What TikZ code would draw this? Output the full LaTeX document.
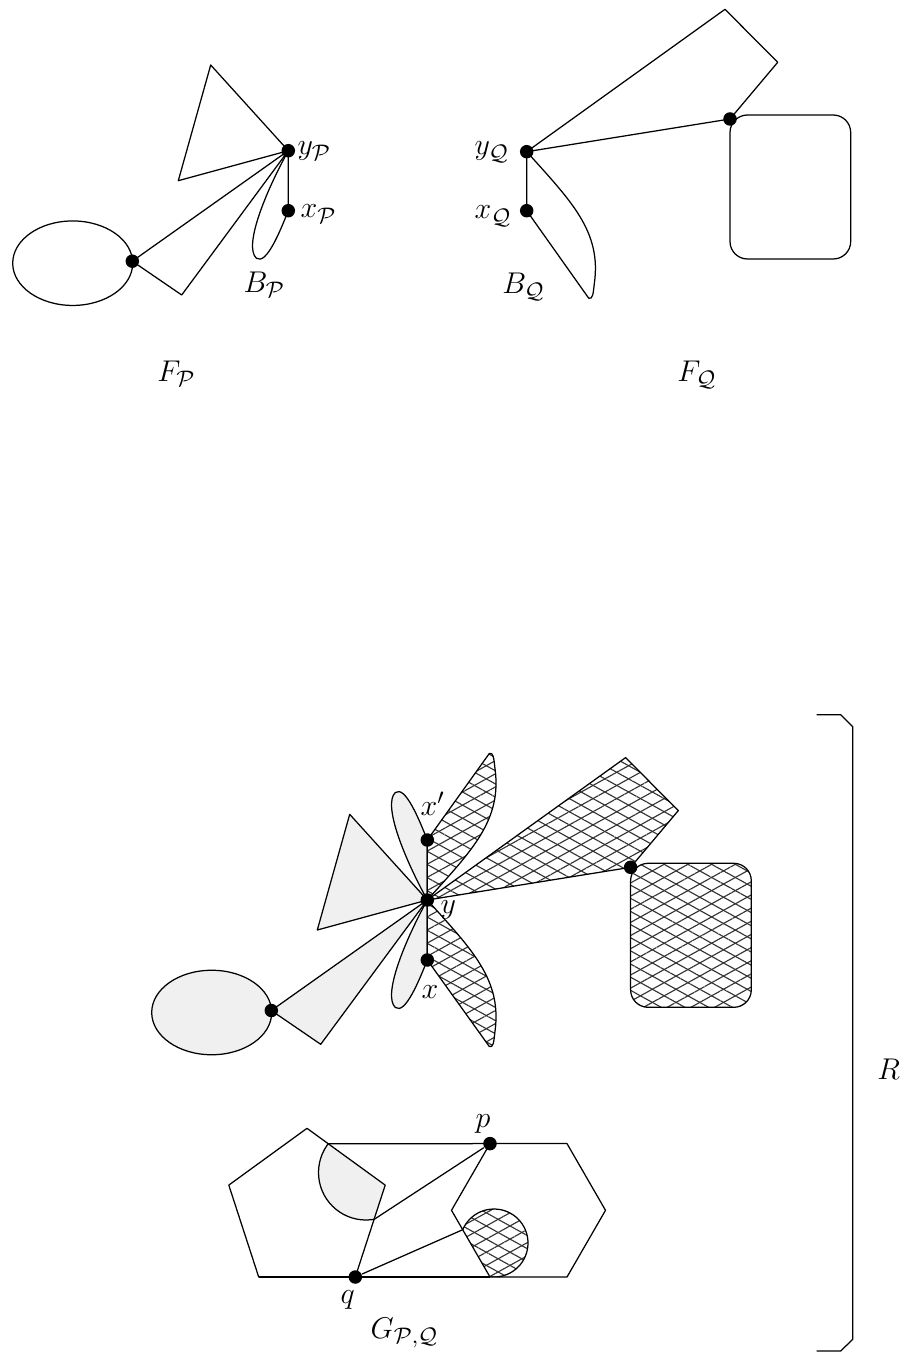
\documentclass[tikz,border=0pt]{standalone}
\usetikzlibrary{patterns.meta}
\begin{document}
\begin{tikzpicture}[x=0.4pt,y=-0.4pt,line width=0.5pt,line join=round,
  dot/.style={circle,fill=black,draw=none,inner sep=0pt,minimum size=5.4pt},
  grayfill/.style={fill=black!6},
  hatchfill/.style={preaction={pattern={Lines[angle=29,distance=4.6pt,line width=0.45pt]},pattern color=black!80},
                    preaction={pattern={Lines[angle=-29,distance=4.6pt,line width=0.45pt]},pattern color=black!80}},
  lbl/.style={inner sep=0pt,anchor=base west,font=\fontsize{12.5}{15}\selectfont},
  rr/.style={rounded corners=7pt}]
\useasboundingbox (0,0) rectangle (905,1364);

% ---------------- F_P (top left)
\begin{scope}[shift={(288.3,150.7)}]
  \draw (-215.6,112.5) ellipse [x radius=24pt,y radius=16.9pt];
  \draw (0,0) -- (-77.6,-85.7) -- (-110,30) -- cycle;
  \draw (-156,110.5) -- (0,0) -- (-106.6,144.3) -- cycle;
  \draw (0,0) .. controls (-22,40) and (-45,95) .. (-32,107.5) .. controls (-22,115) and (-8,80) .. (0,60) -- cycle;
  \node[dot] (eP) at (-156,110.5) {};
  \node[dot] (yP) at (0,0) {};
  \node[dot] (xP) at (0,60) {};
\end{scope}
\node[lbl] (lyP) at (297,155) {$y_{\mathcal{P}}$};
\node[lbl] (lxP) at (300,218) {$x_{\mathcal{P}}$};
\node[lbl] (lBP) at (243,292.7) {$B_{\mathcal{P}}$};
\node[lbl] (lFP) at (156.7,381.7) {$F_{\mathcal{P}}$};

% ---------------- F_Q (top right)
\begin{scope}[shift={(526.7,151.7)}]
  \draw (0,0) -- (198.3,-142.4) -- (251,-89.4) -- (203.3,-32.7) -- cycle;
  \draw[rr] (203.3,-36.7) rectangle (324,107.3);
  \draw (0,0) .. controls (45,50) and (75,80) .. (67.6,132) .. controls (66.5,142) and (66,148) .. (62,146.5) -- (0,59) -- cycle;
  \node[dot] (yQ) at (0,0) {};
  \node[dot] (xQ) at (0,59) {};
  \node[dot] (eQ) at (203.3,-32.7) {};
\end{scope}
\node[lbl] (lyQ) at (474,155) {$y_{\mathcal{Q}}$};
\node[lbl] (lxQ) at (474,219) {$x_{\mathcal{Q}}$};
\node[lbl] (lBQ) at (501.7,293.3) {$B_{\mathcal{Q}}$};
\node[lbl] (lFQ) at (676.7,381.7) {$F_{\mathcal{Q}}$};

% ---------------- R (middle, combined)
\begin{scope}[shift={(427.3,900)}]
  % P part, gray
  \draw[grayfill] (-215.6,112.5) ellipse [x radius=24pt,y radius=16.9pt];
  \draw[grayfill] (0,0) -- (-77.6,-85.7) -- (-110,30) -- cycle;
  \draw[grayfill] (-156,110.5) -- (0,0) -- (-106.6,144.3) -- cycle;
  \draw[grayfill] (0,0) .. controls (-22,40) and (-45,95) .. (-32,107.5) .. controls (-22,115) and (-8,80) .. (0,60) -- cycle;
  \begin{scope}[yscale=-1]
    \draw[grayfill] (0,0) .. controls (-22,40) and (-45,95) .. (-32,107.5) .. controls (-22,115) and (-8,80) .. (0,60) -- cycle;
  \end{scope}
  % Q part, hatched
  \draw[hatchfill] (0,0) -- (198.3,-142.4) -- (251,-89.4) -- (203.3,-32.7) -- cycle;
  \draw[hatchfill,rr] (203.3,-36.7) rectangle (324,107.3);
  \draw[hatchfill] (0,0) .. controls (45,50) and (75,80) .. (67.6,132) .. controls (66.5,142) and (66,148) .. (62,146.5) -- (0,60) -- cycle;
  \begin{scope}[yscale=-1]
    \draw[hatchfill] (0,0) .. controls (45,50) and (75,80) .. (67.6,132) .. controls (66.5,142) and (66,148) .. (62,146.5) -- (0,60) -- cycle;
  \end{scope}
  \node[dot] (eR) at (-156,110.5) {};
  \node[dot] (fR) at (203.3,-32.7) {};
  \node[dot] (y) at (0,0) {};
  \node[dot] (x) at (0,60) {};
  \node[dot] (xp) at (0,-60) {};
\end{scope}
\node[lbl] (lxp) at (420,815) {$x'$};
\node[lbl] (ly) at (440,913) {$y$};
\node[lbl] (lx) at (421,998) {$x$};

% ---------------- G_{P,Q}
\coordinate (pA) at (307,1128.3);
\coordinate (pB) at (385.2,1185.1);
\coordinate (pC) at (355.3,1277);
\coordinate (pD) at (258.7,1277);
\coordinate (pE) at (228.8,1185.1);
\coordinate (hA) at (490,1143.6);
\coordinate (hB) at (567,1143.6);
\coordinate (hC) at (605.5,1210.3);
\coordinate (hD) at (567,1277);
\coordinate (hE) at (490,1277);
\coordinate (hF) at (451.5,1210.3);
\coordinate (gtop) at (328.2,1143.7);
\coordinate (gc1) at (374.2,1219.3);
\coordinate (hc1) at (462.7,1229.7);
\begin{scope}
  \clip (pA) -- (pB) -- (pC) -- (pD) -- (pE) -- cycle;
  \draw[grayfill] (366,1172.5) circle [radius=19pt];
\end{scope}
\begin{scope}
  \clip (hA) -- (hB) -- (hC) -- (hD) -- (hE) -- (hF) -- cycle;
  \draw[hatchfill] (494,1243) circle [radius=13.6pt];
\end{scope}
\draw (pA) -- (pB) -- (pC) -- (pD) -- (pE) -- cycle;
\draw (hA) -- (hB) -- (hC) -- (hD) -- (hE) -- (hF) -- cycle;
\draw (gtop) -- (hA);
\draw (pD) -- (hE);
\node[dot] (p) at (hA) {};
\node[dot] (q) at (pC) {};
\draw (p) -- (gc1);
\draw (q) -- (hc1);
\node[lbl] (lp) at (475,1127) {$p$};
\node[lbl] (lq) at (340,1303) {$q$};
\node[lbl] (lG) at (370,1338) {$G_{\mathcal{P},\mathcal{Q}}$};

% ---------------- brace R
\coordinate (b1) at (816.7,714.7);
\coordinate (b2) at (840.7,714.7);
\coordinate (b3) at (852.7,726.7);
\coordinate (b4) at (852.7,1339.3);
\coordinate (b5) at (840.7,1351);
\coordinate (b6) at (816.7,1351);
\draw (b1) -- (b2) -- (b3) -- (b4) -- (b5) -- (b6);
\node[lbl] (lR) at (876.7,1079) {$R$};
\end{tikzpicture}
\end{document}
